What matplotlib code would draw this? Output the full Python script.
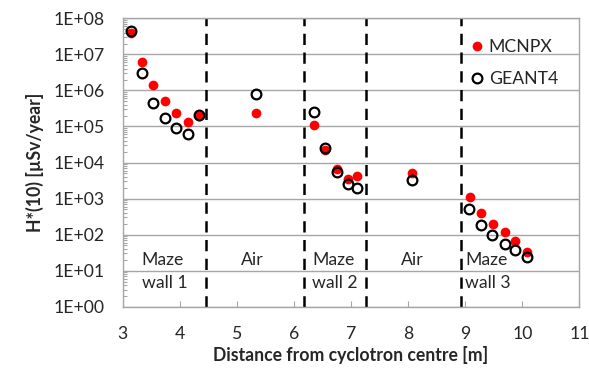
import numpy as np
import matplotlib
matplotlib.use('Agg')
import matplotlib.pyplot as plt
from matplotlib.ticker import LogLocator, FixedLocator

plt.rcParams['font.family'] = ['Lato', 'DejaVu Sans']

# distances [m] and ambient dose equivalent [uSv/year]
dist_mcnpx = [3.14, 3.34, 3.53, 3.74, 3.94, 4.14, 4.33, 5.33,
              6.35, 6.55, 6.75, 6.95, 7.11, 8.07,
              9.08, 9.28, 9.49, 9.69, 9.88, 10.09]
dose_mcnpx = [3.8e7, 6.0e6, 1.45e6, 5.2e5, 2.4e5, 1.3e5, 2.0e5, 2.3e5,
              1.07e5, 2.2e4, 6.6e3, 3.6e3, 4.1e3, 5.0e3,
              1.12e3, 4.0e2, 2.0e2, 1.15e2, 66, 32]

dist_geant = [3.14, 3.34, 3.53, 3.74, 3.94, 4.14, 4.33, 5.33,
              6.35, 6.55, 6.75, 6.94, 7.10, 8.07,
              9.07, 9.28, 9.47, 9.69, 9.88, 10.09]
dose_geant = [4.4e7, 3.0e6, 4.6e5, 1.7e5, 9.2e4, 6.1e4, 2.1e5, 7.8e5,
              2.5e5, 2.6e4, 5.5e3, 2.6e3, 2.0e3, 3.2e3,
              5.2e2, 1.9e2, 1.0e2, 56, 38, 24]

# region boundaries and labels
boundaries = [4.46, 6.18, 7.27, 8.92]
region_labels = ['Maze\nwall 1', 'Air', 'Maze\nwall 2', 'Air', 'Maze\nwall 3']
region_x = [3.33, 5.28, 6.32, 8.08, 9.0]
region_ha = ['left', 'center', 'left', 'center', 'left']

ytick_vals = [10.0 ** k for k in range(0, 9)]
ytick_labels = ['1E+%02d' % k for k in range(0, 9)]

FS = 12.7

fig = plt.figure(figsize=(5.89, 3.69), dpi=100)
ax = fig.add_axes([0.2083, 0.1688, 0.7752, 0.7816])

ax.set_yscale('log')
ax.set_xlim(3, 11)
ax.set_ylim(1, 1e8)

ax.grid(True, axis='y', which='major', color='#a6a6a6', linewidth=1.0)
ax.set_axisbelow(True)

for xb in boundaries:
    ax.axvline(xb, color='black', linewidth=1.8, dashes=(4.5, 3.0), zorder=2)

for lab, xp, ha in zip(region_labels, region_x, region_ha):
    lines = lab.split('\n')
    ax.text(xp, 20, lines[0], ha=ha, va='center', fontsize=FS,
            color='#262626', zorder=1)
    if len(lines) > 1:
        ax.text(xp, 4.6, lines[1], ha=ha, va='center', fontsize=FS,
                color='#262626', zorder=1)

ax.plot(dist_mcnpx, dose_mcnpx, 'o', color='#ff0000', markersize=7,
        markeredgewidth=0, label='MCNPX', zorder=3)
ax.plot(dist_geant, dose_geant, 'o', markerfacecolor='none',
        markeredgecolor='black', markersize=7, markeredgewidth=1.6,
        label='GEANT4', zorder=4)

ax.yaxis.set_major_locator(FixedLocator(ytick_vals))
ax.set_yticklabels(ytick_labels)
ax.yaxis.set_minor_locator(LogLocator(base=10, subs=np.arange(2, 10), numticks=20))
ax.set_xticks(range(3, 12))

ax.tick_params(axis='y', which='major', length=0, pad=13, labelsize=FS,
               labelcolor='#262626')
ax.tick_params(axis='y', which='minor', direction='in', length=3,
               color='#a6a6a6', width=0.8)
ax.tick_params(axis='x', which='major', direction='in', length=4,
               color='#a6a6a6', pad=14, labelsize=FS, labelcolor='#262626')

for sp in ax.spines.values():
    sp.set_color('#a6a6a6')
    sp.set_linewidth(1.0)

ax.set_xlabel('Distance from cyclotron centre [m]', fontsize=FS,
              fontweight='bold', color='#262626', labelpad=3)
ax.set_ylabel('H*(10) [µSv/year]', fontsize=FS, fontweight='bold',
              color='#262626', labelpad=7)

ax.legend(loc='upper right', frameon=False, fontsize=FS, handletextpad=0.1,
          labelspacing=0.9, borderaxespad=0.8, handlelength=1.2,
          labelcolor='#262626')

fig.savefig('out.png', dpi=100)
